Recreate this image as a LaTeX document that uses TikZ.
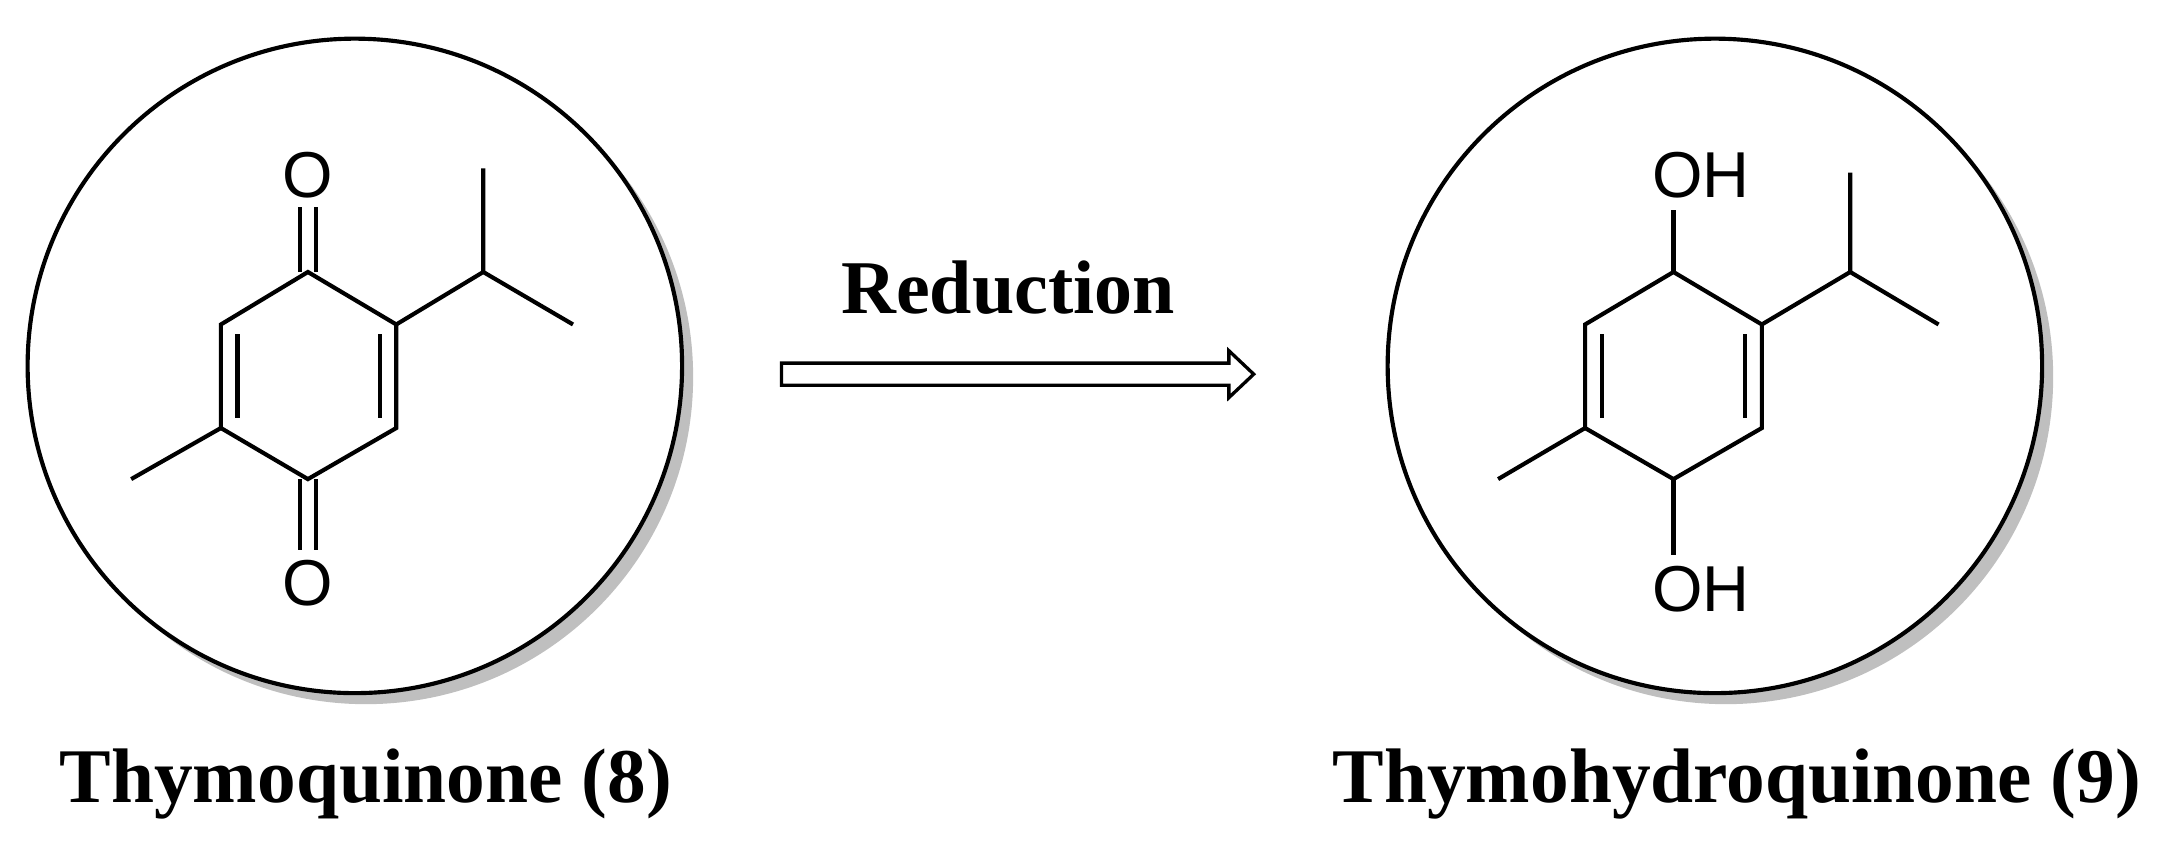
\documentclass[tikz,border=0pt]{standalone}
\usepackage{fontspec}
\setmainfont{Liberation Serif}
\newfontfamily\atomfont{Liberation Sans}
\begin{document}
\begin{tikzpicture}[x=1pt,y=-1pt,line width=3pt,
  atom/.style={font=\atomfont\fontsize{47}{50}\selectfont,inner sep=0pt},
  lbl/.style={font=\bfseries\fontsize{56}{60}\selectfont},
  ring/.style={draw=black,line width=3pt,fill=white},
  shadow/.style={fill=black!25,draw=none}]
\useasboundingbox (0,0) rectangle (1568,617);
% circles
\fill[shadow] (265,273) circle (237);
\draw[ring] (257,265) circle (237);
\fill[shadow] (1250,273) circle (237);
\draw[ring] (1242,265) circle (237);
% left molecule
\coordinate (a1) at (223,197); \coordinate (a2) at (287,235);
\coordinate (a3) at (287,310); \coordinate (a4) at (223,347);
\coordinate (a5) at (160,310); \coordinate (a6) at (160,235);
\node[atom] (o1) at (223,127) {O};
\node[atom] (o2) at (223,422) {O};
\draw (a1)--(a2)--(a3)--(a4)--(a5)--(a6)--cycle;
\draw (172,242)--(172,303);
\draw (275,242)--(275,303);
\draw (217,197)--(217,150) (229,197)--(229,150);
\draw (217,347)--(217,398) (229,347)--(229,398);
\coordinate (m1) at (95,347); \draw (a5)--(m1);
\coordinate (i1) at (350,197); \coordinate (i2) at (350,122); \coordinate (i3) at (415,235);
\draw (a2)--(i1)--(i2) (i1)--(i3);
% right molecule
\coordinate (b1) at (1212,197); \coordinate (b2) at (1276,235);
\coordinate (b3) at (1276,310); \coordinate (b4) at (1212,347);
\coordinate (b5) at (1148,310); \coordinate (b6) at (1148,235);
\node[atom,anchor=west] (oh1) at (1195,127) {OH};
\node[atom,anchor=west] (oh2) at (1195,427) {OH};
\draw (b1)--(b2)--(b3)--(b4)--(b5)--(b6)--cycle;
\draw (1160,242)--(1160,303);
\draw (1264,242)--(1264,303);
\draw (b1)--(1212,152);
\draw (b4)--(1212,402);
\coordinate (n1) at (1085,347); \draw (b5)--(n1);
\coordinate (j1) at (1340,197); \coordinate (j2) at (1340,125); \coordinate (j3) at (1404,235);
\draw (b2)--(j1)--(j2) (j1)--(j3);
% arrow
\draw[line width=2.4pt,line join=miter] (566,263)--(890,263)--(890,254)--(908,271)--(890,288)--(890,279)--(566,279)--cycle;
\node[font=\bfseries\fontsize{55}{60}\selectfont] (r) at (730,208) {Reduction};
\node[lbl] (l1) at (265,568) {Thymoquinone (8)};
\node[lbl] (l2) at (1258,568) {Thymohydroquinone (9)};
\end{tikzpicture}
\end{document}
